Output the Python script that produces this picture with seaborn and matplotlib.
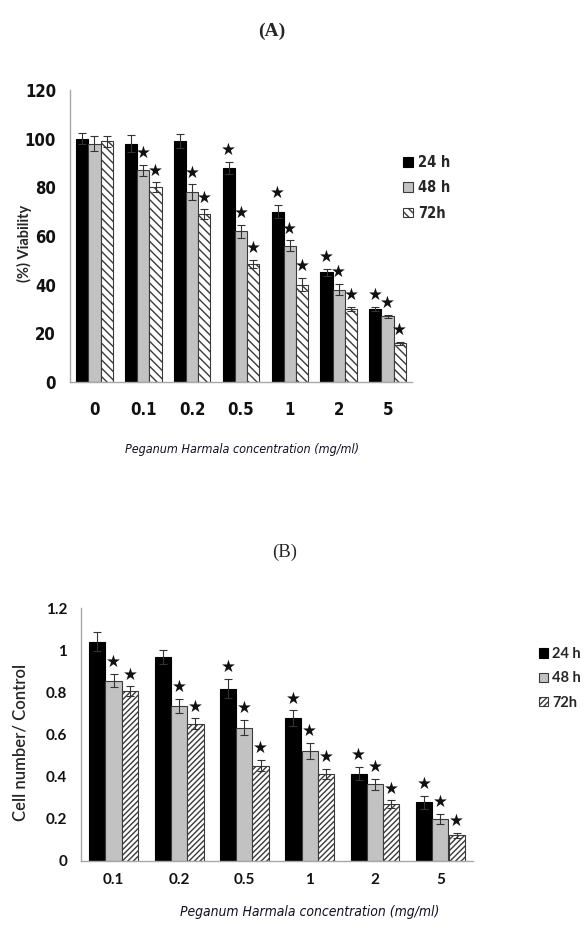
import numpy as np
import pandas as pd
import matplotlib
matplotlib.use("Agg")
import matplotlib.pyplot as plt
import matplotlib.patches as mpatches
from matplotlib import font_manager
from matplotlib.ticker import FuncFormatter, FixedLocator
import seaborn as sns

# ---- data ----
times = ["24 h", "48 h", "72h"]

conc_a = ["0", "0.1", "0.2", "0.5", "1", "2", "5"]
via_24 = [100, 98, 99, 88, 70, 45, 30]
via_48 = [98, 87, 78, 62, 56, 38, 27]
via_72 = [99, 80, 69, 48.5, 40, 30, 16]
err_a_24 = [2.3, 3.5, 2.8, 2.5, 2.8, 1.5, 1.0]
err_a_48 = [3.0, 2.2, 3.2, 2.7, 2.2, 2.2, 0.6]
err_a_72 = [2.3, 2.0, 2.0, 1.8, 2.7, 1.0, 0.6]
star_a_24 = [0, 0, 0, 1, 1, 1, 1]
star_a_48 = [0, 1, 1, 1, 1, 1, 1]
star_a_72 = [0, 1, 1, 1, 1, 1, 1]

conc_b = ["0.1", "0.2", "0.5", "1", "2", "5"]
cell_24 = [1.04, 0.968, 0.818, 0.678, 0.415, 0.278]
cell_48 = [0.855, 0.735, 0.632, 0.523, 0.364, 0.200]
cell_72 = [0.806, 0.652, 0.452, 0.412, 0.270, 0.122]
err_b_24 = [0.045, 0.032, 0.045, 0.036, 0.032, 0.030]
err_b_48 = [0.032, 0.035, 0.036, 0.038, 0.027, 0.025]
err_b_72 = [0.022, 0.025, 0.027, 0.025, 0.018, 0.012]
star_b_24 = [0, 0, 1, 1, 1, 1]
star_b_48 = [1, 1, 1, 1, 1, 1]
star_b_72 = [1, 1, 1, 1, 1, 1]


def long_df(conc, s24, s48, s72):
    rows = []
    for t, vals in zip(times, [s24, s48, s72]):
        for c, v in zip(conc, vals):
            rows.append({"conc": c, "time": t, "value": v})
    return pd.DataFrame(rows)


# narrow font for panel A if one is around
names = {(f.name, f.stretch) for f in font_manager.fontManager.ttflist}
if any(n == "Liberation Sans Narrow" for n, s in names):
    narrow = {"family": "Liberation Sans Narrow"}
elif ("DejaVu Sans", "condensed") in names:
    narrow = {"family": "DejaVu Sans", "stretch": "condensed"}
else:
    narrow = {"family": "Roboto"}

sns.set_style("white")

fig = plt.figure(figsize=(5.85, 9.31), dpi=100)
ax_a = fig.add_axes([70 / 585, 1 - 382 / 931, (412 - 70) / 585, (382 - 90) / 931])
ax_b = fig.add_axes([81 / 585, 1 - 861 / 931, (473 - 81) / 585, (861 - 608) / 931])

fills = ["black", "#c2c2c2", "white"]
edges = ["black", "#3a3a3a", "#3a3a3a"]
spine_col = "#a8a8a8"


def draw_panel(ax, conc, series, errs, stars, hatch, ymax, ystep, fmt,
               tick_font, tick_size, xpad):
    df = long_df(conc, *series)
    sns.barplot(data=df, x="conc", y="value", hue="time", order=conc,
                hue_order=times, palette=fills, errorbar=None, width=0.75,
                gap=0, legend=False, ax=ax, saturation=1)
    bar_groups = list(ax.containers)
    for i, cont in enumerate(bar_groups):
        xs, ys = [], []
        for bar in cont:
            bar.set_edgecolor(edges[i])
            bar.set_linewidth(0.8)
            if i == 2:
                bar.set_hatch(hatch)
            xs.append(bar.get_x() + bar.get_width() / 2)
            ys.append(bar.get_height())
        ax.errorbar(xs, ys, yerr=errs[i], fmt="none", ecolor="#333333",
                    elinewidth=0.8, capsize=3, capthick=0.8, zorder=5)
        for x, y, e, s in zip(xs, ys, errs[i], stars[i]):
            if s:
                ax.annotate("\u2605", (x, y + e), xytext=(0, 2),
                            textcoords="offset points", ha="center",
                            va="bottom", fontsize=12, color="#111111",
                            family="DejaVu Sans")
    ax.set_xlim(-0.5, len(conc) - 0.5)
    ax.set_ylim(0, ymax)
    ax.set_yticks(np.arange(0, ymax + ystep / 2, ystep))
    ax.yaxis.set_major_formatter(FuncFormatter(fmt))
    ax.set_xlabel("")
    ax.set_ylabel("")
    for side in ["top", "right"]:
        ax.spines[side].set_visible(False)
    for side in ["left", "bottom"]:
        ax.spines[side].set_color(spine_col)
        ax.spines[side].set_linewidth(1)
    # Excel-style ticks between categories
    ax.xaxis.set_minor_locator(FixedLocator(np.arange(-0.5, len(conc), 1.0)))
    ax.tick_params(axis="x", which="major", length=0, pad=xpad)
    ax.tick_params(axis="x", which="minor", length=5, color=spine_col,
                   direction="out")
    ax.tick_params(axis="y", length=4, color=spine_col, direction="out",
                   pad=6)
    for lab in ax.get_xticklabels() + ax.get_yticklabels():
        lab.set_fontproperties(font_manager.FontProperties(
            weight="bold", size=tick_size, **tick_font))
        lab.set_color("#111111")


draw_panel(ax_a, conc_a, [via_24, via_48, via_72],
           [err_a_24, err_a_48, err_a_72], [star_a_24, star_a_48, star_a_72],
           "\\\\\\\\", 120, 20, lambda v, p: f"{v:g}",
           narrow, 12, 14)
draw_panel(ax_b, conc_b, [cell_24, cell_48, cell_72],
           [err_b_24, err_b_48, err_b_72], [star_b_24, star_b_48, star_b_72],
           "//////", 1.2, 0.2, lambda v, p: f"{round(v, 1):g}",
           {"family": "Lato"}, 11, 9)

fig.text(24 / 585, 1 - 243 / 931, "(%) Viability", rotation=90,
         ha="center", va="center", fontfamily="Lato", fontweight="bold",
         fontsize=10.5)
fig.text(20 / 585, 1 - 742 / 931, "Cell number/ Control", rotation=90,
         ha="center", va="center", fontfamily="Lato", fontsize=12,
         fontweight="semibold")

xlab = "Peganum Harmala concentration (mg/ml)"
fig.text(242 / 585, 1 - 449 / 931, xlab, ha="center", va="center",
         color="#111122",
         fontproperties=font_manager.FontProperties(style="italic",
                                                    size=9, **narrow))
fig.text(310 / 585, 1 - 912 / 931, xlab, ha="center", va="center",
         color="#111122",
         fontproperties=font_manager.FontProperties(style="italic",
                                                    size=10, **narrow))

fig.text(272 / 585, 1 - 31 / 931, "(A)", ha="center", va="center",
         fontfamily="Liberation Serif", fontweight="bold", fontsize=14)
fig.text(285 / 585, 1 - 552 / 931, "(B)", ha="center", va="center",
         fontfamily="Liberation Serif", fontsize=13.5)


def make_handles(hatch):
    hs = []
    for i, t in enumerate(times):
        hs.append(mpatches.Patch(facecolor=fills[i], edgecolor=edges[i],
                                 hatch=hatch if i == 2 else None,
                                 linewidth=0.8, label=t))
    return hs


fig.legend(handles=make_handles("\\\\\\\\"), loc="upper left",
           bbox_to_anchor=(390 / 585, 1 - 142 / 931), frameon=False,
           handlelength=0.65, handleheight=0.65, handletextpad=0.35,
           labelspacing=0.7,
           prop=font_manager.FontProperties(weight="bold", size=10.5,
                                            **narrow))
fig.legend(handles=make_handles("//////"), loc="upper left",
           bbox_to_anchor=(526 / 585, 1 - 634 / 931), frameon=False,
           handlelength=0.6, handleheight=0.6, handletextpad=0.3,
           labelspacing=0.7,
           prop={"family": "Lato", "weight": "bold", "size": 10.5})

fig.savefig("out.png", dpi=100)
